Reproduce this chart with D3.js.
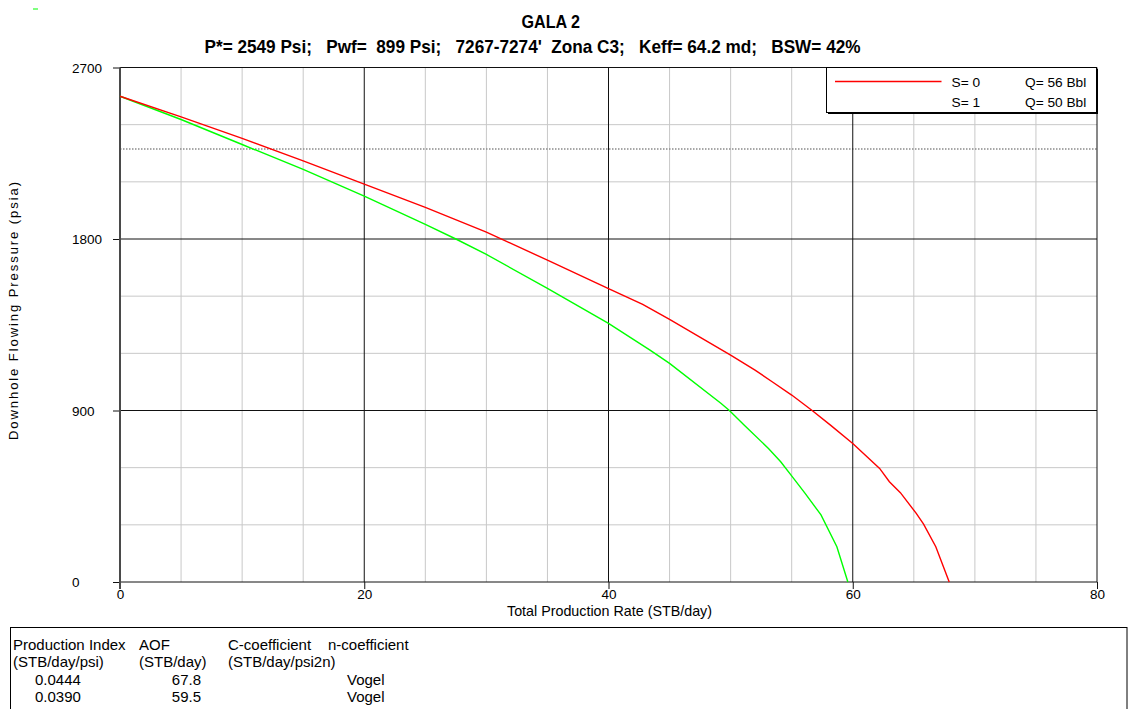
<!DOCTYPE html>
<html>
<head>
<meta charset="utf-8">
<script src="https://cdn.jsdelivr.net/npm/d3@7"></script>
<style>
  body { margin: 0; background: #fff; }
  svg { font-family: "Liberation Sans", Arial, sans-serif; }
  .keep { white-space: pre; }
</style>
</head>
<body>
<svg id="chart" width="1136" height="709"></svg>
<script>
// chart values
var rateS0 = [0, 5, 10, 15, 20, 25, 30, 35, 40, 42.8, 45, 50, 52, 53.4, 55, 56.7, 58.2, 60, 62.2, 63.0, 63.9, 65.2, 65.8, 66.8, 67.9];
var pwfS0  = [2549, 2441, 2328, 2210, 2088, 1966, 1836, 1689, 1539, 1457, 1378, 1191, 1112, 1051, 981, 899, 822, 727, 596, 526, 469, 360, 304, 185, 0];

var rateS1 = [0, 5, 10, 15, 20, 25, 27.5, 30, 35, 40, 43.4, 45, 49.2, 49.9, 51.1, 53.1, 54.1, 55.06, 56.1, 57.4, 58.7, 59.6];
var pwfS1  = [2549, 2427, 2296, 2165, 2025, 1877, 1800, 1719, 1541, 1357, 1217, 1147, 938, 900, 824, 701, 631, 552, 465, 352, 185, 0];

var refPressure = 2272;

var xTicks = [0, 20, 40, 60, 80];
var yTicks = [0, 900, 1800, 2700];

var legendSkin = ["S= 0", "S= 1"];
var legendRate = ["Q= 56 Bbl", "Q= 50 Bbl"];

var tableHead1 = ["Production Index", "AOF", "C-coefficient", "n-coefficient"];
var tableHead2 = ["(STB/day/psi)", "(STB/day)", "(STB/day/psi2n)", ""];
var tablePI    = ["0.0444", "0.0390"];
var tableAOF   = ["67.8", "59.5"];
var tableMethod = ["Vogel", "Vogel"];

// outer and inner size
var margin = {top: 67.5, bottom: 127, left: 120, right: 39},
  width = 1136 - margin.left - margin.right,
  height = 709 - margin.top - margin.bottom;

var root = d3.select("#chart");

var svg = root.append("g")
    .attr("transform", "translate(" + margin.left + "," + margin.top + ")");

var x = d3.scaleLinear().domain([0, 80]).range([0, width]);
var y = d3.scaleLinear().domain([0, 2700]).range([height, 0]);

// minor grid
var xMinor = d3.range(5, 80, 5).filter(function(d) { return d % 20 != 0; });
var yMinor = d3.range(300, 2700, 300).filter(function(d) { return d % 900 != 0; });

svg.selectAll(".xminor").data(xMinor).enter().append("line")
    .attr("x1", function(d) { return x(d); }).attr("x2", function(d) { return x(d); })
    .attr("y1", 0).attr("y2", height)
    .style("stroke", "#c8c8c8").style("stroke-width", 1);

svg.selectAll(".yminor").data(yMinor).enter().append("line")
    .attr("x1", 0).attr("x2", width)
    .attr("y1", function(d) { return y(d); }).attr("y2", function(d) { return y(d); })
    .style("stroke", "#c8c8c8").style("stroke-width", 1);

// dotted reference line
svg.append("line")
    .attr("x1", 0).attr("x2", width)
    .attr("y1", y(refPressure)).attr("y2", y(refPressure))
    .style("stroke", "#8a8a8a").style("stroke-width", 1.5)
    .style("stroke-dasharray", "1.5,1.5");

// major grid
svg.selectAll(".xmajor").data(xTicks.slice(1)).enter().append("line")
    .attr("x1", function(d) { return x(d); }).attr("x2", function(d) { return x(d); })
    .attr("y1", 0).attr("y2", height)
    .style("stroke", "#111").style("stroke-width", 1);

svg.selectAll(".ymajor").data(yTicks).enter().append("line")
    .attr("x1", 0).attr("x2", width)
    .attr("y1", function(d) { return y(d); }).attr("y2", function(d) { return y(d); })
    .style("stroke", "#111").style("stroke-width", 1);

// axes
var yAxis = svg.append("g")
    .call(d3.axisLeft(y).tickValues(yTicks).tickSize(7).tickFormat(d3.format("d")));
yAxis.select(".domain").remove();
yAxis.selectAll("line").style("stroke", "#111");
yAxis.selectAll("text")
    .attr("x", -48).attr("dy", "0.35em")
    .style("text-anchor", "start")
    .style("font-family", "Liberation Sans, Arial, sans-serif")
    .style("font-size", "13.5px").style("fill", "#000");

var xAxis = svg.append("g")
    .attr("transform", "translate(0," + height + ")")
    .call(d3.axisBottom(x).tickValues(xTicks).tickSize(7).tickFormat(d3.format("d")));
xAxis.select(".domain").remove();
xAxis.selectAll("line").style("stroke", "#111");
xAxis.selectAll("text")
    .attr("y", 17).attr("dy", 0)
    .style("font-family", "Liberation Sans, Arial, sans-serif")
    .style("font-size", "13.5px").style("fill", "#000");

// left axis line
svg.append("line")
    .attr("x1", x(0)).attr("x2", x(0))
    .attr("y1", 0).attr("y2", height + 7)
    .style("stroke", "#4a4a4a").style("stroke-width", 2);

// axis titles
svg.append("text")
    .attr("x", width / 2 + 1).attr("y", height + 34)
    .style("text-anchor", "middle")
    .style("font-size", "14.3px")
    .text("Total Production Rate (STB/day)");

root.append("text")
    .attr("transform", "translate(18,311) rotate(-90)")
    .attr("textLength", 258).attr("lengthAdjust", "spacing")
    .style("text-anchor", "middle")
    .style("font-size", "13px")
    .text("Downhole Flowing Pressure (psia)");

// IPR curves
var line = d3.line()
    .x(function(d) { return x(d[0]); })
    .y(function(d) { return y(d[1]); });

svg.append("path")
    .datum(d3.zip(rateS1, pwfS1))
    .attr("d", line)
    .style("fill", "none").style("stroke", "#00ff00").style("stroke-width", 1.4);

svg.append("path")
    .datum(d3.zip(rateS0, pwfS0))
    .attr("d", line)
    .style("fill", "none").style("stroke", "#ff0000").style("stroke-width", 1.4);

// legend
var legend = root.append("g").attr("transform", "translate(826.5,67.5)");
legend.append("rect")
    .attr("x", 1.5).attr("y", 1.5).attr("width", 270).attr("height", 45)
    .style("fill", "#000");
legend.append("rect")
    .attr("width", 270).attr("height", 45)
    .style("fill", "#fff").style("stroke", "#000").style("stroke-width", 1);
legend.append("line")
    .attr("x1", 8.5).attr("x2", 115).attr("y1", 14).attr("y2", 14)
    .style("stroke", "#ff0000").style("stroke-width", 1.4);
legend.selectAll(".skin").data(legendSkin).enter().append("text")
    .attr("x", 125).attr("y", function(d, i) { return 19 + i * 20; })
    .style("font-size", "13.7px")
    .text(function(d) { return d; });
legend.selectAll(".rate").data(legendRate).enter().append("text")
    .attr("x", 198.5).attr("y", function(d, i) { return 19 + i * 20; })
    .style("font-size", "13.7px")
    .text(function(d) { return d; });

// stray green mark at the top left
root.append("line")
    .attr("x1", 33).attr("x2", 38).attr("y1", 9).attr("y2", 9)
    .style("stroke", "#00ff00").style("stroke-width", 1);

// title
root.append("text")
    .attr("x", 521.5).attr("y", 28.3)
    .attr("textLength", 58.5).attr("lengthAdjust", "spacingAndGlyphs")
    .style("font-weight", "bold").style("font-size", "18.5px")
    .text("GALA 2");
root.append("text")
    .attr("class", "keep")
    .attr("x", 204.5).attr("y", 53.3)
    .attr("textLength", 656).attr("lengthAdjust", "spacingAndGlyphs")
    .style("font-weight", "bold").style("font-size", "18.5px")
    .text("P*= 2549 Psi;   Pwf=  899 Psi;   7267-7274'  Zona C3;   Keff= 64.2 md;   BSW= 42%");

// results table
var table = root.append("g");
table.append("rect")
    .attr("x", 10.5).attr("y", 627.5).attr("width", 1116.5).attr("height", 82)
    .style("fill", "none").style("stroke", "#000").style("stroke-width", 1);

var colX = [13, 139, 228, 328];
table.selectAll(".h1").data(tableHead1).enter().append("text")
    .attr("x", function(d, i) { return colX[i]; }).attr("y", 649.5)
    .style("font-size", "15px")
    .text(function(d) { return d; });
table.selectAll(".h2").data(tableHead2).enter().append("text")
    .attr("x", function(d, i) { return colX[i]; }).attr("y", 666.5)
    .style("font-size", "15px")
    .text(function(d) { return d; });
table.selectAll(".pi").data(tablePI).enter().append("text")
    .attr("x", 35).attr("y", function(d, i) { return 684.5 + i * 17; })
    .style("font-size", "15px")
    .text(function(d) { return d; });
table.selectAll(".aof").data(tableAOF).enter().append("text")
    .attr("x", 201).attr("y", function(d, i) { return 684.5 + i * 17; })
    .style("text-anchor", "end")
    .style("font-size", "15px")
    .text(function(d) { return d; });
table.selectAll(".method").data(tableMethod).enter().append("text")
    .attr("x", 347).attr("y", function(d, i) { return 684.5 + i * 17; })
    .style("font-size", "15px")
    .text(function(d) { return d; });
</script>
</body>
</html>
